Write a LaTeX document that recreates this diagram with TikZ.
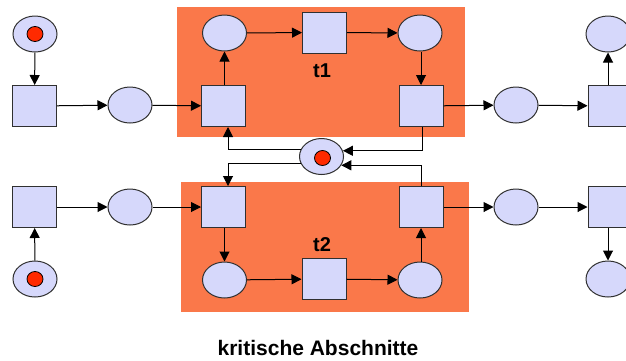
\documentclass[tikz,border=0pt]{standalone}
\usepackage{fontspec}
\setmainfont{Liberation Sans}
\usetikzlibrary{arrows.meta,shapes.geometric}
\definecolor{lav}{HTML}{D6D8FB}
\definecolor{crit}{HTML}{FA784A}
\definecolor{tok}{HTML}{FF2A00}
\definecolor{edge}{HTML}{303030}
\tikzset{
  place/.style={ellipse,draw=edge,line width=1pt,fill=lav,minimum width=44pt,minimum height=36pt,inner sep=0pt},
  trans/.style={rectangle,draw=edge,line width=1pt,fill=lav,minimum width=44pt,minimum height=41pt,inner sep=0pt},
  tokdot/.style={ellipse,draw=black,line width=0.8pt,fill=tok,minimum width=16pt,minimum height=15pt,inner sep=0pt},
  arr/.style={draw=black,line width=1pt,-{Triangle[length=10pt,width=10pt]}},
  critbox/.style={fill=crit,draw=none},
  lbl/.style={font=\bfseries\fontsize{20}{22}\selectfont,inner sep=0pt}
}
\begin{document}
\begin{tikzpicture}[x=1pt,y=-1pt]
\useasboundingbox (0,0) rectangle (626,360);
\fill[white] (0,0) rectangle (626,360);
% critical sections
\path[critbox] (177,7) rectangle (465,137);
\path[critbox] (181,182) rectangle (469,312);
% top row
\node[place] (p0) at (35,34) {};
\node[tokdot] at (35,34) {};
\node[trans] (s0) at (34.5,106) {};
\node[place] (p1) at (130,105) {};
\node[trans] (A1) at (223.5,106) {};
\node[place] (E1) at (224.5,33) {};
\node[trans] (T1) at (324.5,32.5) {};
\node[place] (E2) at (420,33) {};
\node[trans] (A2) at (421,106) {};
\node[place] (p2) at (516,105) {};
\node[trans] (S3) at (610,106) {};
\node[place] (P3) at (608,34) {};
% mutex
\node[place] (M) at (321.5,156.5) {};
\node[tokdot] at (322.5,158) {};
% bottom row
\node[place] (q0) at (35,279) {};
\node[tokdot] at (35,279) {};
\node[trans] (r0) at (34.5,207) {};
\node[place] (q1) at (130,207) {};
\node[trans] (B1) at (223.5,207) {};
\node[place] (F1) at (224.5,280) {};
\node[trans] (T2) at (324,279) {};
\node[place] (F2) at (420,280) {};
\node[trans] (B2) at (421,207) {};
\node[place] (q2) at (516,207) {};
\node[trans] (R3) at (610,207) {};
\node[place] (Q3) at (608,279) {};
% labels
\node[lbl] (l1) at (322,71) {t1};
\node[lbl] (l2) at (322,245) {t2};
\node[font=\bfseries\fontsize{21}{23}\selectfont,inner sep=0pt] (cap) at (318,347.5) {kritische Abschnitte};
% top arcs
\draw[arr] (p0) -- (s0);
\draw[arr] (s0) -- (p1);
\draw[arr] (p1) -- (A1);
\draw[arr] (A1.north -| E1) -- (E1);
\draw[arr] (E1) -- (T1);
\draw[arr] (T1) -- (E2);
\draw[arr] (E2.south -| A2) -- (A2);
\draw[arr] (A2) -- (p2);
\draw[arr] (p2) -- (S3);
\draw[arr] (S3.north -| P3) -- (P3);
% bottom arcs
\draw[arr] (q0) -- (r0);
\draw[arr] (r0) -- (q1);
\draw[arr] (q1) -- (B1);
\draw[arr] (B1.south -| F1) -- (F1);
\draw[arr] (F1) -- (T2);
\draw[arr] (T2) -- (F2);
\draw[arr] (F2.north -| B2) -- (B2);
\draw[arr] (B2) -- (q2);
\draw[arr] (q2) -- (R3);
\draw[arr] (R3.south -| Q3) -- (Q3);
% mutex arcs
\draw[arr] ([xshift=1pt]A2.south) |- (M.15);
\draw[arr] (B2.north) |- (M.-24);
\draw[arr] (M.162) -| ([xshift=4.5pt]A1.south);
\draw[arr] (M.198) -| ([xshift=4.5pt]B1.north);
\end{tikzpicture}
\end{document}
